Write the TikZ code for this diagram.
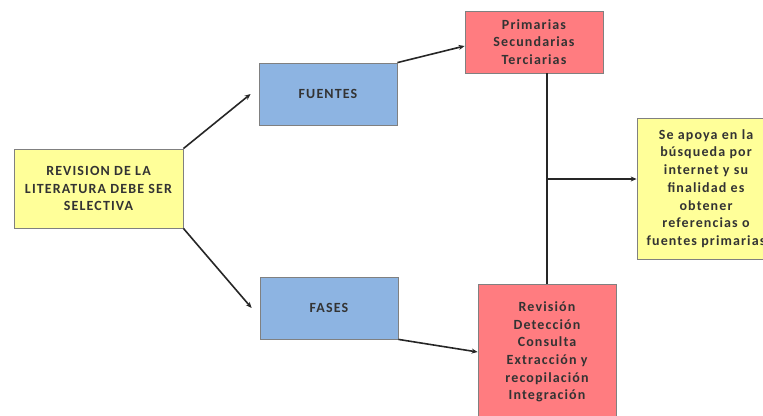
\documentclass[tikz,border=0pt]{standalone}
\usepackage{fontspec}
\setmainfont{Carlito}[LetterSpace=8]
\usetikzlibrary{arrows.meta}

\definecolor{amarillo}{RGB}{255,255,153}
\definecolor{azul}{RGB}{141,180,226}
\definecolor{rojo}{RGB}{255,124,128}
\definecolor{borde}{RGB}{128,128,128}
\definecolor{texto}{RGB}{51,51,51}
\definecolor{linea}{RGB}{38,38,38}

\begin{document}
\begin{tikzpicture}[x=1pt,y=-1pt,
        caja/.style={draw=borde, line width=0.8pt, inner sep=0pt, align=center,
            text=texto, font=\bfseries\fontsize{14}{17.7}\selectfont},
        flecha/.style={linea, line width=1.6pt, -{Stealth[length=6pt,width=5pt]}}]
        \useasboundingbox (0,0) rectangle (763,415);
        \clip (0,0) rectangle (763,415);

        \node[caja, fill=amarillo, minimum width=169pt, minimum height=79pt] (lit) at (98.5,188.5) {REVISION DE LA\\LITERATURA DEBE SER\\SELECTIVA};
        \node[caja, fill=azul, minimum width=138pt, minimum height=62pt] (fuentes) at (328,94) {FUENTES};
        \node[caja, fill=azul, minimum width=138pt, minimum height=62pt] (fases) at (329,308) {FASES};
        \node[caja, fill=rojo, minimum width=138pt, minimum height=62pt] (prim) at (534,42) {Primarias\\Secundarias\\Terciarias};
        \node[caja, fill=rojo, minimum width=138pt, minimum height=136pt] (rev) at (547,352) {Revisión\\Detección\\Consulta\\Extracción y\\recopilación\\Integración};
        \node[caja, fill=amarillo, minimum width=138pt, minimum height=141pt] (apoyo) at (706,188.5) {Se apoya en la\\búsqueda por\\internet y su\\finalidad es\\obtener\\referencias o\\fuentes primarias};

        \coordinate (junta) at (547,179);

        \draw[flecha] (lit.north east) -- ([xshift=-8pt]fuentes.west);
        \draw[flecha] (lit.south east) -- ([xshift=-8pt]fases.west);
        \draw[flecha] (fuentes.north east) -- ([yshift=-4pt]prim.west);
        \draw[flecha] (fases.south east) -- (rev.west);
        \draw[linea, line width=1.6pt] (rev.north) -- (rev.north |- prim.south);
        \draw[flecha] (junta) -- (junta -| apoyo.west);
\end{tikzpicture}
\end{document}
